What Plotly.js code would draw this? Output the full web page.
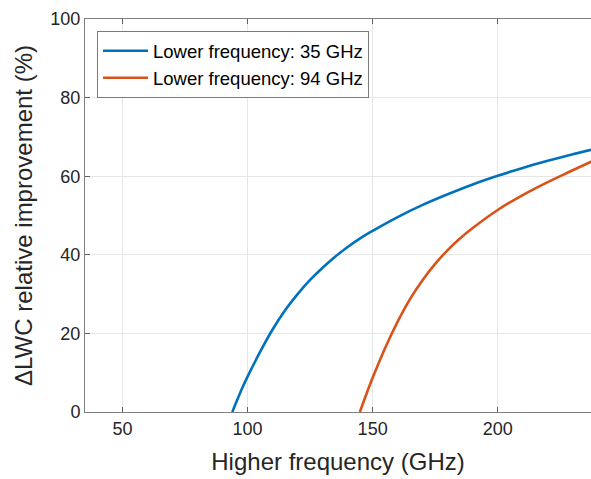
<!DOCTYPE html>
<html>
<head>
<meta charset="utf-8">
<script src="https://cdn.plot.ly/plotly-3.0.1.min.js"></script>
<style>
  html, body { margin: 0; padding: 0; background: #fff; }
  #chart { width: 591px; height: 479px; }
</style>
</head>
<body>
<div id="chart"></div>
<script>
// values
var freq35 = [93.9, 96, 98, 100, 105, 110, 115, 120, 125, 130, 135, 140, 145, 150, 160, 170, 180, 190, 200, 210, 220, 230, 240];
var improv35 = [0, 3.3, 6.3, 9.0, 15.3, 21.0, 25.9, 30.0, 33.6, 36.7, 39.5, 42.0, 44.2, 46.1, 49.6, 52.7, 55.4, 57.9, 60.1, 62.1, 63.9, 65.6, 67.1];

var freq94 = [144.9, 147, 150, 155, 160, 165, 170, 175, 180, 185, 190, 200, 210, 220, 230, 240];
var improv94 = [0, 3.7, 8.7, 16.3, 23.0, 28.8, 33.6, 37.7, 41.2, 44.2, 46.8, 51.4, 55.2, 58.5, 61.5, 64.5];

var seriesNames = ["Lower frequency: 35 GHz", "Lower frequency: 94 GHz"];
var xTicks = [50, 100, 150, 200];
var yTicks = [0, 20, 40, 60, 80, 100];

var fontFam = '"Liberation Sans", Arial, sans-serif';

var trace1 = {
    x: freq35,
    y: improv35,
    type: 'scatter',
    mode: 'lines',
    name: seriesNames[0],
    line: {color: '#0072BD', width: 2.6, shape: 'spline', smoothing: 1}
};
var trace2 = {
    x: freq94,
    y: improv94,
    type: 'scatter',
    mode: 'lines',
    name: seriesNames[1],
    line: {color: '#D95319', width: 2.6, shape: 'spline', smoothing: 1}
};

var layout = {
    width: 591,
    height: 479,
    paper_bgcolor: '#fff',
    plot_bgcolor: '#fff',
    font: {family: fontFam, color: '#262626', size: 18},
    margin: {l: 85, r: 0, t: 19, b: 67},
    showlegend: true,
    legend: {
        x: 0.0237, y: 0.969, xanchor: 'left', yanchor: 'top',
        bgcolor: '#fff', bordercolor: '#7a7a7a', borderwidth: 1,
        font: {size: 18.5, color: '#000'},
        itemwidth: 45
    },
    xaxis: {
        range: [35, 237.3],
        tickvals: xTicks,
        ticks: 'inside', ticklen: 5, tickcolor: '#606060',
        showline: true, linecolor: '#808080', linewidth: 1, mirror: 'ticks',
        showgrid: true, gridcolor: '#e6e6e6', zeroline: false,
        tickfont: {size: 18},
        title: {text: 'Higher frequency (GHz)', font: {size: 24}, standoff: 15}
    },
    yaxis: {
        range: [0, 100],
        tickvals: yTicks,
        ticks: 'inside', ticklen: 5, tickcolor: '#606060',
        showline: true, linecolor: '#808080', linewidth: 1,
        showgrid: true, gridcolor: '#e6e6e6', zeroline: false,
        tickfont: {size: 18},
        title: {text: '\u0394LWC relative improvement (%)', font: {size: 24}, standoff: 10}
    }
};

Plotly.newPlot('chart', [trace1, trace2], layout, {displayModeBar: false, staticPlot: true});
</script>
</body>
</html>
